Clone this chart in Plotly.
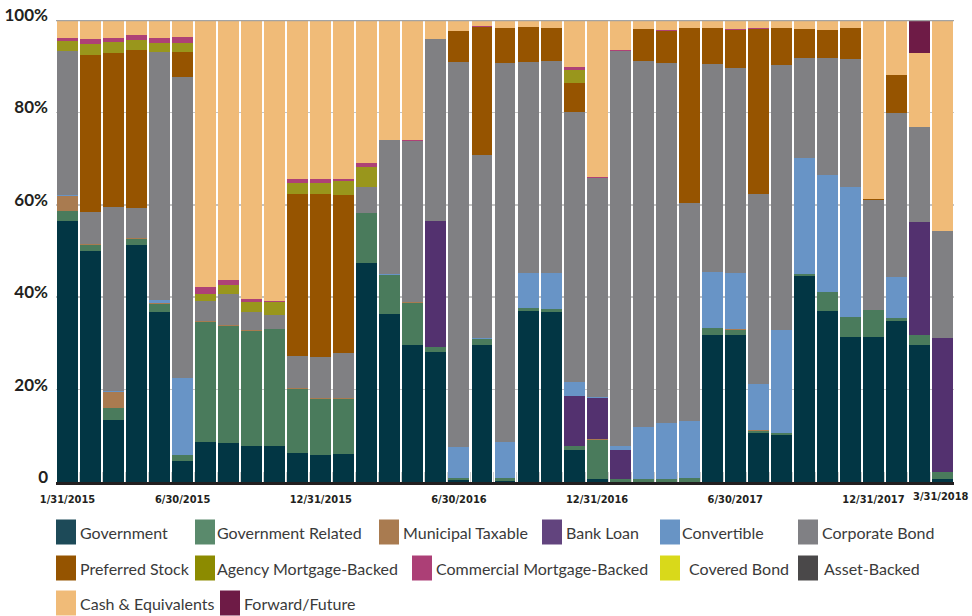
import plotly.graph_objects as go

dates = ["1/31/2015", "2/28/2015", "3/31/2015", "4/30/2015", "5/31/2015", "6/30/2015",
         "7/31/2015", "8/31/2015", "9/30/2015", "10/31/2015", "11/30/2015", "12/31/2015",
         "1/31/2016", "2/29/2016", "3/31/2016", "4/30/2016", "5/31/2016", "6/30/2016",
         "7/31/2016", "8/31/2016", "9/30/2016", "10/31/2016", "11/30/2016", "12/31/2016",
         "1/31/2017", "2/28/2017", "3/31/2017", "4/30/2017", "5/31/2017", "6/30/2017",
         "7/31/2017", "8/31/2017", "9/30/2017", "10/31/2017", "11/30/2017", "12/31/2017",
         "1/31/2018", "2/28/2018", "3/31/2018"]
labeled_dates = ["1/31/2015", "6/30/2015", "12/31/2015", "6/30/2016",
                 "12/31/2016", "6/30/2017", "12/31/2017", "3/31/2018"]

government = [56.5, 50.0, 13.4, 51.3, 36.8, 4.5, 8.6, 8.4, 7.7, 7.7, 6.2, 5.8, 6.0,
              47.4, 36.4, 29.6, 28.1, 0.4, 29.6, 0.2, 37.0, 36.8, 6.9, 0.6, 0.0, 0.0,
              0.0, 0.0, 31.8, 31.8, 10.5, 10.1, 44.5, 37.0, 31.3, 31.3, 34.8, 29.6, 0.6]
government_related = [2.2, 1.3, 2.6, 1.3, 1.7, 1.3, 26.1, 25.4, 25.0, 25.4, 14.0, 12.2, 12.0,
                      10.8, 8.4, 9.2, 1.1, 0.5, 1.3, 0.6, 0.6, 0.6, 1.0, 8.6, 0.6, 0.6,
                      0.6, 0.8, 1.5, 1.1, 0.5, 0.4, 0.5, 4.1, 4.4, 5.9, 0.7, 2.2, 1.5]
municipal_taxable = [3.2, 0.2, 3.5, 0.2, 0.2, 0.0, 0.2, 0.2, 0.2, 0.0, 0.2, 0.2, 0.2,
                     0.0, 0.0, 0.2, 0.0, 0.0, 0.0, 0.0, 0.0, 0.0, 0.0, 0.2, 0.0, 0.0,
                     0.0, 0.0, 0.0, 0.2, 0.2, 0.0, 0.0, 0.0, 0.0, 0.0, 0.0, 0.0, 0.0]
bank_loan = [0.0, 0.0, 0.0, 0.0, 0.0, 0.0, 0.0, 0.0, 0.0, 0.0, 0.0, 0.0, 0.0,
             0.0, 0.0, 0.0, 27.3, 0.0, 0.0, 0.0, 0.0, 0.0, 10.7, 8.7, 6.3, 0.0,
             0.0, 0.0, 0.0, 0.0, 0.0, 0.0, 0.0, 0.0, 0.0, 0.0, 0.0, 24.4, 29.0]
convertible = [0.2, 0.0, 0.2, 0.0, 0.7, 16.7, 0.0, 0.0, 0.0, 0.0, 0.0, 0.0, 0.0,
               0.0, 0.2, 0.0, 0.0, 6.7, 0.2, 7.8, 7.6, 7.8, 3.0, 0.2, 1.0, 11.2,
               12.1, 12.3, 12.1, 12.1, 10.0, 22.4, 25.1, 25.3, 28.1, 0.0, 8.8, 0.0, 0.0]
corporate_bond = [31.2, 6.9, 39.8, 6.5, 53.7, 65.2, 4.3, 6.8, 3.9, 3.1, 6.8, 8.8, 9.7,
                  5.6, 29.0, 34.8, 39.4, 83.3, 39.7, 82.1, 45.7, 45.9, 58.5, 47.5, 85.4, 79.3,
                  78.0, 47.3, 45.1, 44.4, 41.1, 57.4, 21.7, 25.4, 27.8, 23.8, 35.6, 20.6, 23.2]
preferred_stock = [0.0, 34.0, 33.4, 34.2, 0.0, 5.4, 0.0, 0.0, 0.0, 0.0, 35.1, 35.3, 34.2,
                   0.0, 0.0, 0.0, 0.0, 6.7, 27.7, 7.6, 7.6, 7.2, 6.3, 0.0, 0.0, 7.0,
                   6.9, 37.9, 7.8, 8.2, 35.8, 8.0, 6.3, 6.0, 6.7, 0.3, 8.2, 0.0, 0.0]
agency_mbs = [2.2, 2.3, 2.3, 2.2, 1.9, 1.9, 1.6, 1.8, 2.2, 2.8, 2.4, 2.4, 3.0,
              4.4, 0.0, 0.0, 0.0, 0.0, 0.0, 0.0, 0.0, 0.0, 2.8, 0.0, 0.0, 0.0,
              0.0, 0.0, 0.0, 0.0, 0.0, 0.0, 0.0, 0.0, 0.0, 0.0, 0.0, 0.0, 0.0]
commercial_mbs = [0.6, 1.2, 0.9, 1.1, 1.1, 1.3, 1.4, 1.1, 0.6, 0.2, 0.9, 0.9, 0.5,
                  0.8, 0.0, 0.2, 0.0, 0.0, 0.2, 0.0, 0.0, 0.0, 0.6, 0.2, 0.2, 0.0,
                  0.2, 0.0, 0.0, 0.2, 0.2, 0.0, 0.0, 0.0, 0.0, 0.0, 0.0, 0.0, 0.0]
cash_equivalents = [3.9, 4.1, 3.9, 3.2, 3.9, 3.7, 57.8, 56.3, 60.4, 60.8, 34.4, 34.4, 34.4,
                    31.0, 26.0, 26.0, 4.1, 2.4, 1.3, 1.7, 1.5, 1.7, 10.2, 34.0, 6.5, 1.9,
                    2.2, 1.7, 1.7, 2.0, 1.7, 1.7, 1.9, 2.2, 1.7, 38.7, 11.9, 16.1, 45.7]
forward_future = [0.0, 0.0, 0.0, 0.0, 0.0, 0.0, 0.0, 0.0, 0.0, 0.0, 0.0, 0.0, 0.0,
                  0.0, 0.0, 0.0, 0.0, 0.0, 0.0, 0.0, 0.0, 0.0, 0.0, 0.0, 0.0, 0.0,
                  0.0, 0.0, 0.0, 0.0, 0.0, 0.0, 0.0, 0.0, 0.0, 0.0, 0.0, 7.1, 0.0]

series = [
    ("Government", government, "#023644"),
    ("Government Related", government_related, "#4a7b5c"),
    ("Municipal Taxable", municipal_taxable, "#a97b50"),
    ("Bank Loan", bank_loan, "#53316f"),
    ("Convertible", convertible, "#6894c6"),
    ("Corporate Bond", corporate_bond, "#808083"),
    ("Preferred Stock", preferred_stock, "#965400"),
    ("Agency Mortgage-Backed", agency_mbs, "#99961c"),
    ("Commercial Mortgage-Backed", commercial_mbs, "#ae4176"),
    ("Cash & Equivalents", cash_equivalents, "#f0bb78"),
    ("Forward/Future", forward_future, "#6e1b46"),
]

# legend entries: (name, swatch colour, row, swatch x px, text x px) in page pixels
legend_items = [
    ("Government", "#1d4a58", 0, 56, 81),
    ("Government Related", "#5a8a6c", 0, 195, 218),
    ("Municipal Taxable", "#a97b50", 0, 379, 404),
    ("Bank Loan", "#62447e", 0, 542, 567),
    ("Convertible", "#6894c5", 0, 660, 683),
    ("Corporate Bond", "#808084", 0, 798, 823),
    ("Preferred Stock", "#955400", 1, 56, 81),
    ("Agency Mortgage-Backed", "#8c8b00", 1, 195, 218),
    ("Commercial Mortgage-Backed", "#ac3f76", 1, 412, 437),
    ("Covered Bond", "#d9d91a", 1, 660, 690),
    ("Asset-Backed", "#4a4849", 1, 798, 825),
    ("Cash & Equivalents", "#f0bb78", 2, 56, 81),
    ("Forward/Future", "#6e1b46", 2, 220, 245),
]

W, H = 972, 616
ML, MR, MT, MB = 56, 18, 20, 134
PW, PH = W - ML - MR, H - MT - MB


def px_x(p):
    return (p - ML) / PW


def px_y(p):
    return (H - MB - p) / PH


fig = go.Figure()
for name, vals, color in series:
    fig.add_trace(go.Bar(x=dates, y=vals, name=name, marker=dict(color=color, line=dict(width=0)),
                         showlegend=False))

shapes = []
annotations = []
row_centers = [532, 568, 603]
for name, color, row, sx, tx in legend_items:
    cy = row_centers[row]
    shapes.append(dict(type="rect", xref="paper", yref="paper",
                       x0=px_x(sx), x1=px_x(sx + 20), y0=px_y(cy + 12.5), y1=px_y(cy - 12.5),
                       fillcolor=color, line=dict(width=0)))
    annotations.append(dict(text=name, xref="paper", yref="paper", x=px_x(tx - 3), y=px_y(cy),
                            xanchor="left", yanchor="middle", showarrow=False,
                            font=dict(family="Lato", size=16, color="#3a3a3a")))

# last date label kept inside the page edge (as in the reference)
tick_font = dict(family="DejaVu Sans Condensed, Roboto", size=11, color="#231f20", weight="bold")
annotations.append(dict(text=labeled_dates[-1], xref="paper", yref="paper",
                        x=px_x(971), y=px_y(496), xanchor="right", yanchor="middle",
                        showarrow=False, font=tick_font))

# top 100% line
shapes.append(dict(type="line", xref="paper", yref="y", x0=0, x1=1, y0=100, y1=100,
                   line=dict(color="#a3a3a3", width=2.5), layer="above"))

ticktext = [d if d in labeled_dates[:-1] else "" for d in dates]

fig.update_layout(
    barmode="stack",
    bargap=0.09,
    width=W, height=H,
    margin=dict(l=ML, r=MR, t=MT, b=MB, pad=0, autoexpand=False),
    paper_bgcolor="white",
    plot_bgcolor="white",
    shapes=shapes,
    annotations=annotations,
    xaxis=dict(type="category", tickmode="array", tickvals=dates, ticktext=ticktext,
               tickson="boundaries", ticks="inside", ticklen=10, tickwidth=1,
               tickcolor="#d0d0d0", showgrid=False, showline=True, linecolor="#231f20",
               linewidth=3, tickangle=0, automargin=False, tickfont=tick_font,
               ticklabelstandoff=5,
               range=[-0.5, len(dates) - 0.5], fixedrange=True),
    yaxis=dict(range=[0, 100], tickmode="array", tickvals=[0, 20, 40, 60, 80, 100],
               ticktext=["0", "20%", "40%", "60%", "80%", "100%"],
               showgrid=True, gridcolor="#c4c4c4", gridwidth=1.5, zeroline=False,
               showline=False, ticks="", ticklabelshift=-5, ticklabelstandoff=7,
               ticklabeloverflow="allow", automargin=False,
               tickfont=dict(family="Lato", size=17, color="#231f20", weight="bold"),
               fixedrange=True),
)

fig.write_html("out.html",
               config={"displayModeBar": False, "staticPlot": True},
               post_script="document.documentElement.style.overflow='hidden';"
                           "document.body.style.margin='0';"
                           "document.body.style.overflow='hidden';")
